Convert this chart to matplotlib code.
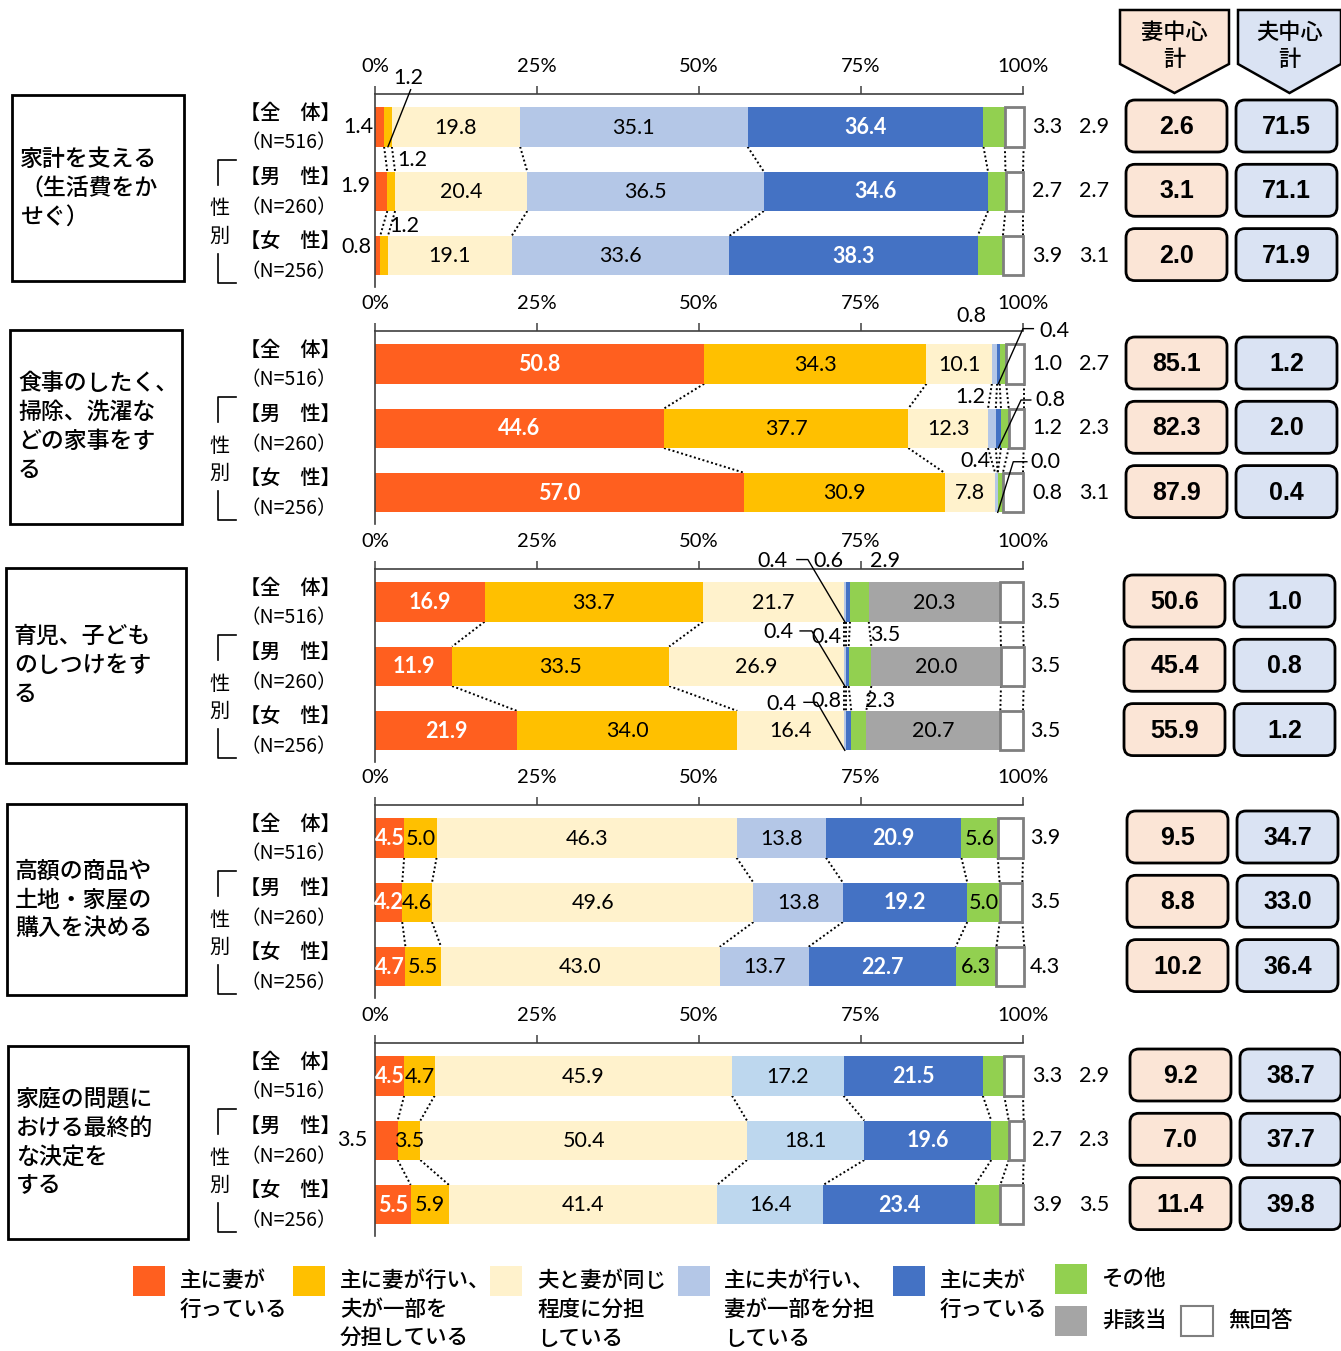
import matplotlib
matplotlib.use("Agg")
import matplotlib.pyplot as plt
from matplotlib.patches import Rectangle, FancyBboxPatch, Polygon
import numpy as np

W, H = 1341, 1351
JP = ["Noto Sans CJK JP", "DejaVu Sans"]
NUM = ["Lato", "Noto Sans CJK JP", "DejaVu Sans"]
BOXNUM = ["Liberation Sans Narrow", "Liberation Sans", "DejaVu Sans"]

# ---------------- data ----------------
categories = ["主に妻が行っている", "主に妻が行い、夫が一部を分担している",
              "夫と妻が同じ程度に分担している", "主に夫が行い、妻が一部を分担している",
              "主に夫が行っている", "その他", "非該当", "無回答"]
legend_labels = ["主に妻が\n行っている", "主に妻が行い、\n夫が一部を\n分担している",
                 "夫と妻が同じ\n程度に分担\nしている", "主に夫が行い、\n妻が一部を分担\nしている",
                 "主に夫が\n行っている", "その他", "非該当", "無回答"]
items = ["家計を支える\n（生活費をか\nせぐ）",
         "食事のしたく、\n掃除、洗濯な\nどの家事をす\nる",
         "育児、子ども\nのしつけをす\nる",
         "高額の商品や\n土地・家屋の\n購入を決める",
         "家庭の問題に\nおける最終的\nな決定を\nする"]
groups = ["【全　体】", "【男　性】", "【女　性】"]
group_n = ["（N=516）", "（N=260）", "（N=256）"]
tick_labels = ["0%", "25%", "50%", "75%", "100%"]

# rows: 全体, 男性, 女性 ; columns follow `categories`
v_income = [[1.4, 1.2, 19.8, 35.1, 36.4, 3.3, 0.0, 2.9],
            [1.9, 1.2, 20.4, 36.5, 34.6, 2.7, 0.0, 2.7],
            [0.8, 1.2, 19.1, 33.6, 38.3, 3.9, 0.0, 3.1]]
v_housework = [[50.8, 34.3, 10.1, 0.8, 0.4, 1.0, 0.0, 2.7],
               [44.6, 37.7, 12.3, 1.2, 0.8, 1.2, 0.0, 2.3],
               [57.0, 30.9, 7.8, 0.4, 0.0, 0.8, 0.0, 3.1]]
v_childcare = [[16.9, 33.7, 21.7, 0.4, 0.6, 2.9, 20.3, 3.5],
               [11.9, 33.5, 26.9, 0.4, 0.4, 3.5, 20.0, 3.5],
               [21.9, 34.0, 16.4, 0.4, 0.8, 2.3, 20.7, 3.5]]
v_purchase = [[4.5, 5.0, 46.3, 13.8, 20.9, 5.6, 0.0, 3.9],
              [4.2, 4.6, 49.6, 13.8, 19.2, 5.0, 0.0, 3.5],
              [4.7, 5.5, 43.0, 13.7, 22.7, 6.3, 0.0, 4.3]]
v_decision = [[4.5, 4.7, 45.9, 17.2, 21.5, 3.3, 0.0, 2.9],
              [3.5, 3.5, 50.4, 18.1, 19.6, 2.7, 0.0, 2.3],
              [5.5, 5.9, 41.4, 16.4, 23.4, 3.9, 0.0, 3.5]]
wife_total = [[2.6, 3.1, 2.0], [85.1, 82.3, 87.9], [50.6, 45.4, 55.9],
              [9.5, 8.8, 10.2], [9.2, 7.0, 11.4]]
husband_total = [[71.5, 71.1, 71.9], [1.2, 2.0, 0.4], [1.0, 0.8, 1.2],
                 [34.7, 33.0, 36.4], [38.7, 37.7, 39.8]]
all_vals = [v_income, v_housework, v_childcare, v_purchase, v_decision]

colors = ["#FF5F1F", "#FFC000", "#FFF2CC", "#B4C7E7", "#4472C4", "#92D050", "#A5A5A5", "#FFFFFF"]
alt_light_blue = "#BDD7EE"  # used in the last panel

# ---------------- layout (pixels) ----------------
C0s = [127, 364, 602, 838, 1076]
SP = 64.3
BAR_H = 0.614
AX_L, AX_W = 375, 648
item_boxes = [(12, 95, 184, 281), (10, 330, 182, 524), (6, 568, 186, 763),
              (7, 804, 186, 995), (8, 1046, 188, 1239)]
sum_x = [(1126, 1236), (1126, 1236), (1124, 1234), (1127, 1237), (1130, 1240)]

# labels placed outside bars: (panel, row, cat, x%, y, leader)
outside = [
    (0, 0, 0, -2.6, 0.0, None), (0, 0, 1, 5.2, -0.76, "diag"),
    (0, 1, 0, -3.1, 0.92, None), (0, 1, 1, 5.7, 0.51, None),
    (0, 2, 0, -2.8, 1.87, None), (0, 2, 1, 4.5, 1.54, None),
    (1, 0, 3, 92.1, -0.75, None), (1, 0, 4, 104.9, -0.51, (101.6, 100.0, -0.55)),
    (1, 1, 3, 91.8, 0.51, None), (1, 1, 4, 104.2, 0.56, (101.2, 99.7, 0.56)),
    (1, 2, 3, 92.6, 1.51, None), (1, 2, 4, 103.4, 1.52, (100.6, 98.5, 1.52)),
    (2, 0, 3, 61.4, -0.64, (65.1, 66.8, -0.66)), (2, 0, 4, 69.9, -0.64, None),
    (2, 0, 5, 78.7, -0.64, None),
    (2, 1, 3, 62.2, 0.47, (65.6, 67.4, 0.45)), (2, 1, 4, 69.6, 0.54, None),
    (2, 1, 5, 78.7, 0.51, None),
    (2, 2, 3, 62.7, 1.59, (66.2, 68.2, 1.56)), (2, 2, 4, 69.6, 1.54, None),
    (2, 2, 5, 77.9, 1.54, None),
    (4, 1, 0, -3.5, 1.0, None),
]
inside_override = {(4, 1, 1)}
right_other_panels = {0, 1, 4}

fig = plt.figure(figsize=(W / 100, H / 100), dpi=100)
ov = fig.add_axes([0, 0, 1, 1])
ov.set_xlim(0, W)
ov.set_ylim(H, 0)
ov.axis("off")

for p, vals in enumerate(all_vals):
    C0 = C0s[p]
    top_px = C0 - 33
    bot_px = C0 + 2 * SP + 31
    ax = fig.add_axes([AX_L / W, 1 - bot_px / H, AX_W / W, (bot_px - top_px) / H])
    ax.patch.set_alpha(0)
    ax.set_xlim(0, 100)
    ax.set_ylim((bot_px - C0) / SP, (top_px - C0) / SP)
    for s in ["right", "bottom"]:
        ax.spines[s].set_visible(False)
    ax.spines["top"].set_color("#404040")
    ax.spines["left"].set_color("#404040")
    ax.spines["top"].set_linewidth(1.2)
    ax.spines["left"].set_linewidth(1.2)
    ax.xaxis.set_ticks_position("top")
    ax.set_xticks([0, 25, 50, 75, 100])
    ax.set_xticklabels(tick_labels, fontsize=14.5, family=NUM)
    ax.tick_params(axis="x", direction="out", length=6, width=1.1, pad=8, color="#404040")
    ax.set_yticks([])

    cums = []
    for i, row in enumerate(vals):
        left = 0.0
        cum = []
        for k, v in enumerate(row):
            c = colors[k]
            if k == 3 and p == 4:
                c = alt_light_blue
            if k == 7:
                ax.barh(i, v, left=left, height=BAR_H, color=c, edgecolor="#7F7F7F",
                        linewidth=2, clip_on=False, zorder=3)
            else:
                ax.barh(i, v, left=left, height=BAR_H, color=c, linewidth=0,
                        clip_on=False, zorder=2)
            inside = (v >= 4 and k != 7) or (p, i, k) in inside_override
            if inside:
                white = k in (0, 4)
                ax.text(left + v / 2, i + 0.01, f"{v:.1f}", ha="center", va="center",
                        fontsize=15.5, family=NUM, color="white" if white else "black",
                        fontweight="bold" if white else "normal", zorder=5)
            left += v
            cum.append(left)
        cums.append(cum)
        # right-hand labels
        if p in right_other_panels:
            ax.text(103.7, i, f"{row[5]:.1f}", ha="center", va="center", fontsize=15.5,
                    family=NUM, clip_on=False)
            ax.text(111.0, i, f"{row[7]:.1f}", ha="center", va="center", fontsize=15.5,
                    family=NUM, clip_on=False)
        else:
            ax.text(103.4, i, f"{row[7]:.1f}", ha="center", va="center", fontsize=15.5,
                    family=NUM, clip_on=False)

    # series connector lines
    for i in range(2):
        for k in range(8):
            a, b = cums[i][k], cums[i + 1][k]
            if k == 6 and vals[i][6] == 0 and vals[i + 1][6] == 0:
                continue
            ax.plot([a, b], [i + BAR_H / 2, i + 1 - BAR_H / 2], color="black",
                    lw=1.4, ls=(0, (1, 1.3)), clip_on=False, zorder=1)

    # outside labels
    for (pp, i, k, x, y, leader) in outside:
        if pp != p:
            continue
        v = vals[i][k]
        ax.text(x, y, f"{v:.1f}", ha="center", va="center", fontsize=15.5, family=NUM,
                clip_on=False, zorder=6)
        seg_c = cums[i][k] - v / 2
        if leader == "diag":
            ax.plot([x + 0.3, seg_c], [y + 0.18, i + BAR_H / 2], color="black", lw=1,
                    clip_on=False, zorder=6)
        elif leader is not None:
            xs, xe, yl = leader
            ax.plot([xs, xe, seg_c], [yl, yl, i + BAR_H / 2], color="black", lw=1,
                    clip_on=False, zorder=6)

    # ------- overlay elements for this panel -------
    x0, y0, x1, y1 = item_boxes[p]
    ov.add_patch(Rectangle((x0, y0), x1 - x0, y1 - y0, fill=False, edgecolor="black", lw=2))
    ov.text(x0 + 8, (y0 + y1) / 2, items[p], ha="left", va="center", fontsize=16.5,
            family=JP, fontweight="medium", linespacing=1.32)
    for i in range(3):
        cy = C0 + i * SP
        ov.text(290, cy - 14, groups[i], ha="center", va="center", fontsize=14.5,
                family=JP, fontweight="medium")
        ov.text(289, cy + 16, group_n[i], ha="center", va="center", fontsize=14,
                family=JP)
    ov.plot([236, 218, 218], [C0 + 33, C0 + 33, C0 + 58], color="black", lw=1.2)
    ov.plot([218, 218, 236], [C0 + 127, C0 + 156, C0 + 156], color="black", lw=1.2)
    ov.text(219, C0 + 82, "性", ha="center", va="center", fontsize=14.5, family=JP)
    ov.text(219, C0 + 109, "別", ha="center", va="center", fontsize=14.5, family=JP)
    wx, hx = sum_x[p]
    for i in range(3):
        cy = C0 + i * SP - 1
        for bx, fc, val in [(wx, "#FBE5D6", wife_total[p][i]), (hx, "#DAE3F3", husband_total[p][i])]:
            ov.add_patch(FancyBboxPatch((bx, cy - 26), 101, 52,
                                        boxstyle="round,pad=0,rounding_size=9",
                                        facecolor=fc, edgecolor="black", lw=2))
            ov.text(bx + 50.5, cy + 1, f"{val:.1f}", ha="center", va="center",
                    fontsize=18, fontweight="bold", family=BOXNUM)

# header arrows
for (xa, xb), fc, lbl in [((1120, 1229), "#FBE5D6", "妻中心\n計"), ((1238, 1341), "#DAE3F3", "夫中心\n計")]:
    xm = (xa + xb) / 2
    ov.add_patch(Polygon([(xa, 10), (xb, 10), (xb, 64), (xm, 93), (xa, 64)], closed=True,
                         facecolor=fc, edgecolor="black", lw=1.8))
    ov.text(xm, 46, lbl, ha="center", va="center", fontsize=16, family=JP,
            fontweight="medium", linespacing=1.2)

# legend
leg_pos = [(133, 1266, 180), (293, 1266, 340), (490, 1266, 537), (678, 1266, 724),
           (893, 1266, 940), (1055, 1264, 1102), (1055, 1306, 1102), (1181, 1306, 1228)]
for k, (px, py, tx) in enumerate(leg_pos):
    ec = "#7F7F7F" if k == 7 else colors[k]
    ov.add_patch(Rectangle((px, py), 32, 30, facecolor=colors[k], edgecolor=ec,
                           lw=1.5 if k == 7 else 0))
    for j, line in enumerate(legend_labels[k].split("\n")):
        ov.text(tx, py + 15 + j * 29, line, ha="left", va="center", fontsize=15.5,
                family=JP, fontweight="medium")

fig.savefig("out.png", dpi=100)
